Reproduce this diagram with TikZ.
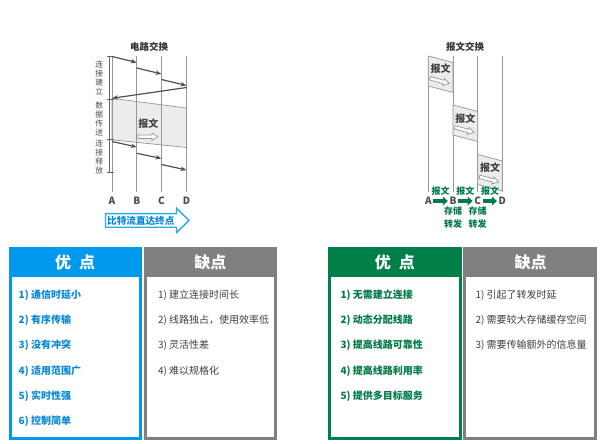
\documentclass[tikz,border=0pt]{standalone}
\usepackage{fontspec}
\newfontfamily\cjk{Noto Sans CJK SC}
\usetikzlibrary{arrows.meta}
\definecolor{blueH}{RGB}{0,153,238}
\definecolor{blueT}{RGB}{10,135,215}
\definecolor{greenH}{RGB}{0,128,72}
\definecolor{greenT}{RGB}{0,122,70}
\definecolor{greyH}{RGB}{128,128,128}
\definecolor{greyT}{RGB}{64,64,64}
\definecolor{lineG}{RGB}{150,150,150}
\definecolor{sigG}{RGB}{80,80,80}
\definecolor{shade}{RGB}{236,236,236}
\definecolor{arrB}{RGB}{40,170,235}
\tikzset{
  vline/.style={draw=lineG, line width=0.7pt},
  sig/.style={draw=sigG, line width=1.2pt, -{Stealth[length=6pt,width=4.5pt]}},
  ttl/.style={font=\cjk\bfseries\fontsize{9.5}{11}\selectfont, text=black!80},
  letter/.style={font=\cjk\bfseries\fontsize{10}{11}\selectfont, text=black!70},
  vtxt/.style={font=\cjk\fontsize{7.8}{9}\selectfont, text=black!70, align=center, inner sep=0pt},
  msg/.style={font=\cjk\bfseries\fontsize{10}{12}\selectfont, text=black!75},
  glbl/.style={font=\cjk\bfseries\fontsize{9}{10}\selectfont, text=greenT},
  garrow/.style={draw=greenT, line width=3.2pt, -{Triangle[length=5pt,width=8.5pt]}},
  pkt/.style={draw=lineG, fill=shade, line width=0.7pt},
  hdr/.style={font=\cjk\bfseries\fontsize{16}{18}\selectfont, text=white},
  itB/.style={anchor=west, font=\cjk\bfseries\fontsize{10}{12}\selectfont, text=blueT},
  itG/.style={anchor=west, font=\cjk\bfseries\fontsize{10}{12}\selectfont, text=greenT},
  itK/.style={anchor=west, font=\cjk\fontsize{10}{12}\selectfont, text=greyT},
  harrow/.pic={\draw[draw=lineG, fill=white, line width=0.7pt] (0,-1.7)--(14,-1.7)--(14,-3.6)--(20,0)--(14,3.6)--(14,1.7)--(0,1.7)--cycle;}
}
\begin{document}
\begin{tikzpicture}[x=1pt,y=-1pt]
\useasboundingbox (0,0) rectangle (603,444);
\fill[white] (0,0) rectangle (603,444);

% ================= circuit switching =================
\node[ttl] (t1) at (149,46.5) {电路交换};
% shaded data area
\path[draw=lineG, fill=shade, line width=0.7pt] (112,98.3) -- (186.5,108) -- (186.5,147.5) -- (112,139.8) -- cycle;
% vertical lines
\foreach \n/\x in {A/112,B/136.8,C/161.5,D/186.5}{
  \coordinate (c\n t) at (\x,56);
  \coordinate (c\n b) at (\x,192);
  \draw[vline] (c\n t) -- (c\n b);
  \node[letter] (cl\n) at (\x,201) {\n};
}
% bracket
\coordinate (br0) at (109.5,56);
\coordinate (br3) at (109.5,172);
\draw[draw=black!60, line width=0.6pt] (br0) -- (br3);
\foreach \y in {56,99,139.5,172}{\draw[draw=black!60, line width=0.6pt] (106.5,\y) -- (113.5,\y);}
\node[vtxt] (v1) at (99.3,78) {连\\接\\建\\立};
\node[vtxt] (v2) at (99.3,119.5) {数\\据\\传\\送};
\node[vtxt] (v3) at (99.3,157.5) {连\\接\\释\\放};
% setup arrows
\coordinate (s1a) at (112,56.5);   \coordinate (s1b) at (136.8,62.5);
\coordinate (s2a) at (136.8,68);   \coordinate (s2b) at (161.5,74);
\coordinate (s3a) at (161.5,79.5); \coordinate (s3b) at (186.5,85.5);
\coordinate (r1a) at (186.5,87.5); \coordinate (r1b) at (112,98.3);
\draw[sig] (s1a) -- (s1b);
\draw[sig] (s2a) -- (s2b);
\draw[sig] (s3a) -- (s3b);
\draw[sig] (r1a) -- (r1b);
% release arrows
\coordinate (e1a) at (112,141.5);   \coordinate (e1b) at (136.8,147);
\coordinate (e2a) at (136.8,153.3); \coordinate (e2b) at (161.5,158.5);
\coordinate (e3a) at (161.5,164.5); \coordinate (e3b) at (186.5,170);
\draw[sig] (e1a) -- (e1b);
\draw[sig] (e2a) -- (e2b);
\draw[sig] (e3a) -- (e3b);
% message in data area
\node[msg] (m0) at (148.3,123.5) {报文};
\pic at (138,136.7) {harrow};
% bottom blue arrow
\path[draw=arrB, fill=white, line width=1.4pt, line join=miter]
  (105.5,213.6) -- (176.5,213.6) -- (176.5,208.2) -- (189,220.4) -- (176.5,232.6) -- (176.5,227.2) -- (105.5,227.2) -- cycle;
\node[font=\cjk\bfseries\fontsize{9.6}{11}\selectfont, text=blueT, anchor=west, inner sep=0pt] (bit) at (107,220.4) {比特流直达终点};

% ================= message switching =================
\node[ttl] (t2) at (465,46.5) {报文交换};
\foreach \n/\x in {A/428.3,B/453,C/477.7,D/502.3}{
  \coordinate (m\n t) at (\x,56);
  \coordinate (m\n b) at (\x,192);
  \draw[vline] (m\n t) -- (m\n b);
}
% packets
\path[pkt] (428.3,56) -- (453,62.5) -- (453,92.5) -- (428.3,86) -- cycle;
\node[msg] (p1) at (440.6,68.5) {报文};
\pic[rotate=-15] at (430,78.3) {harrow};
\path[pkt] (453,105) -- (477.7,111.5) -- (477.7,141.5) -- (453,135) -- cycle;
\node[msg] (p2) at (465.3,118.5) {报文};
\pic[rotate=-15] at (454.7,127.3) {harrow};
\path[pkt] (477.7,154.5) -- (502.3,161) -- (502.3,191) -- (477.7,184.5) -- cycle;
\node[msg] (p3) at (490,168) {报文};
\pic[rotate=-15] at (479.4,176.8) {harrow};
% bottom labels
\node[letter, inner sep=1.5pt] (lA) at (428.3,201) {A};
\node[letter, inner sep=1.5pt] (lB) at (453,201) {B};
\node[letter, inner sep=1.5pt] (lC) at (477.7,201) {C};
\node[letter, inner sep=1.5pt] (lD) at (502.3,201) {D};
\draw[garrow] (lA) -- (lB);
\draw[garrow] (lB) -- (lC);
\draw[garrow] (lC) -- (lD);
\node[glbl] (g1) at (440.6,190.8) {报文};
\node[glbl] (g2) at (465.3,190.8) {报文};
\node[glbl] (g3) at (490,190.8) {报文};
\node[glbl] (s1) at (453,211.2) {存储};
\node[glbl] (f1) at (453,224.3) {转发};
\node[glbl] (s2) at (477.7,211.2) {存储};
\node[glbl] (f2) at (477.7,224.3) {转发};

% ================= tables =================
\draw[line width=3pt, draw=blueH, fill=white] (10,248.2) rectangle (140,438.6);
\fill[blueH] (8.5,246.7) rectangle (141.5,277.3);
\draw[line width=3pt, draw=greyH, fill=white] (145,248.2) rectangle (275.7,438.6);
\fill[greyH] (143.5,246.7) rectangle (277.2,277.3);
\node[hdr] (h1) at (75,262) {优\hspace{0.5em}点};
\node[hdr] (h2) at (210.3,262) {缺点};
\foreach \t [count=\i from 0] in {1) 通信时延小, 2) 有序传输, 3) 没有冲突, 4) 适用范围广, 5) 实时性强, 6) 控制简单}{
  \node[itB] (bl\i) at (15.2,295+25.3*\i) {\t};
}
\foreach \t [count=\i from 0] in {1) 建立连接时间长, {2) 线路独占，使用效率低}, 3) 灵活性差, 4) 难以规格化}{
  \node[itK] (kl\i) at (154.5,295+25.3*\i) {\t};
}

\draw[line width=3pt, draw=greenH, fill=white] (329,248.2) rectangle (460,438.6);
\fill[greenH] (327.5,246.7) rectangle (461.5,277.3);
\draw[line width=3pt, draw=greyH, fill=white] (464.3,248.2) rectangle (595,438.6);
\fill[greyH] (462.8,246.7) rectangle (596.5,277.3);
\node[hdr] (h3) at (394.8,262) {优\hspace{0.5em}点};
\node[hdr] (h4) at (530.5,262) {缺点};
\foreach \t [count=\i from 0] in {1) 无需建立连接, 2) 动态分配线路, 3) 提高线路可靠性, 4) 提高线路利用率, 5) 提供多目标服务}{
  \node[itG] (gr\i) at (337,295+25.3*\i) {\t};
}
\foreach \t [count=\i from 0] in {1) 引起了转发时延, 2) 需要较大存储缓存空间, 3) 需要传输额外的信息量}{
  \node[itK] (kr\i) at (472,295+25.3*\i) {\t};
}
\end{tikzpicture}
\end{document}
